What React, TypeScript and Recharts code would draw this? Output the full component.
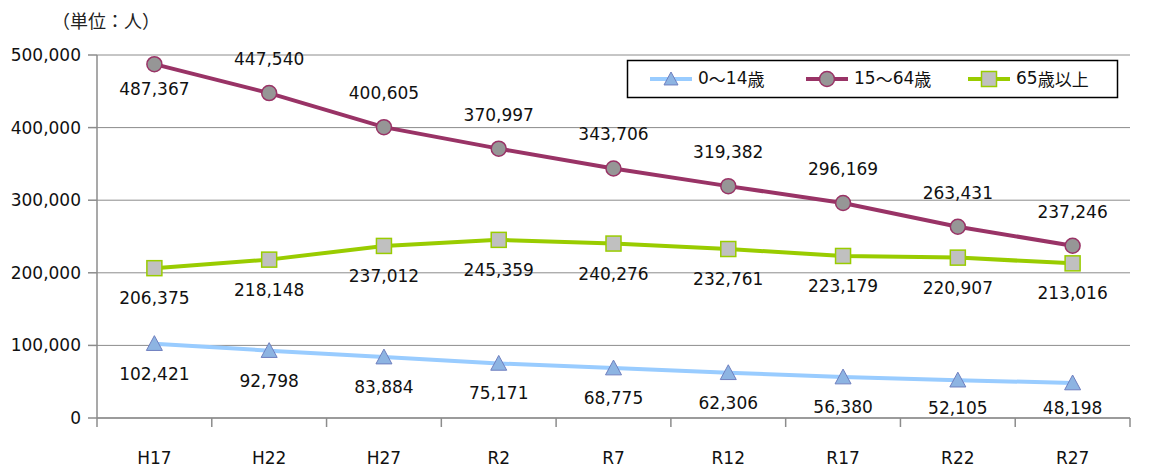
import React from "react";
import { LineChart, Line, XAxis, YAxis, CartesianGrid, LabelList } from "recharts";

const categories = ["H17", "H22", "H27", "R2", "R7", "R12", "R17", "R22", "R27"];
const young = [102421, 92798, 83884, 75171, 68775, 62306, 56380, 52105, 48198];
const working = [487367, 447540, 400605, 370997, 343706, 319382, 296169, 263431, 237246];
const elderly = [206375, 218148, 237012, 245359, 240276, 232761, 223179, 220907, 213016];
const yTicks = [0, 100000, 200000, 300000, 400000, 500000];
const xBounds = [0, 1, 2, 3, 4, 5, 6, 7, 8, 9];

const data = categories.map((c, i) => ({
  x: i + 0.5,
  cat: c,
  young: young[i],
  working: working[i],
  elderly: elderly[i],
}));

const FONT = "'DejaVu Sans', Verdana, sans-serif";
const CJK = "'Noto Sans CJK JP', sans-serif";
const BLUE = "#99ccff";
const MAROON = "#993366";
const GREEN = "#99cc00";
const AXIS = "#8c8c8c";

const W = 1153;
const H = 471;
const M = { top: 55, right: 23, bottom: 0, left: 0 };
const Y_W = 97;
const BAND = (W - M.right - Y_W) / categories.length;

const fmt = (v: number) => v.toLocaleString("en-US");

const Triangle = ({ cx, cy, s = 8 }: any) => (
  <path
    d={`M${cx},${cy - s} L${cx + s},${cy + s * 0.85} L${cx - s},${cy + s * 0.85} Z`}
    fill="#8db4e2"
    stroke="#6f7fbf"
    strokeWidth={1}
  />
);
const Circle = ({ cx, cy }: any) => (
  <circle cx={cx} cy={cy} r={7.5} fill="#969696" stroke={MAROON} strokeWidth={1.5} />
);
const Square = ({ cx, cy }: any) => (
  <rect x={cx - 7.5} y={cy - 7.5} width={15} height={15} fill="#c0c0c0" stroke={GREEN} strokeWidth={1.5} />
);

const makeLabel = (dy: (i: number, y: number) => number) => (props: any) => {
  const { x, y, value, index } = props;
  return (
    <text
      x={x}
      y={y + dy(index, y)}
      textAnchor="middle"
      dominantBaseline="central"
      fontFamily={FONT}
      fontSize={17}
      fill="#111"
    >
      {fmt(value)}
    </text>
  );
};

// x axis: tick marks at band edges, category names at band centres
const XTick = (props: any) => {
  const { x, y, payload } = props;
  const i = payload.value;
  return (
    <g>
      <line x1={x} x2={x} y1={y - 8} y2={y + 1} stroke={AXIS} strokeWidth={1.5} />
      {i < categories.length && (
        <text
          x={x + BAND / 2}
          y={y + 32}
          textAnchor="middle"
          dominantBaseline="central"
          fontFamily={FONT}
          fontSize={17}
          fill="#111"
        >
          {categories[i]}
        </text>
      )}
    </g>
  );
};

const LegendText = ({ x, y, parts }: any) => (
  <text x={x} y={y} dominantBaseline="central" fontSize={17} fill="#111">
    {parts.map((p: string, k: number) => (
      <tspan key={k} fontFamily={/[0-9]/.test(p) ? FONT : CJK}>
        {p}
      </tspan>
    ))}
  </text>
);

const LegendBox = () => {
  const items = [
    { parts: ["0", "～", "14", "歳"], color: BLUE, Mk: Triangle, x: 650 },
    { parts: ["15", "～", "64", "歳"], color: MAROON, Mk: Circle, x: 806 },
    { parts: ["65", "歳以上"], color: GREEN, Mk: Square, x: 968 },
  ];
  return (
    <g>
      <rect x={627.5} y={60.5} width={490} height={37} fill="#fff" stroke="#000" strokeWidth={1.5} />
      {items.map((it, k) => (
        <g key={k}>
          <line x1={it.x} x2={it.x + 42} y1={79} y2={79} stroke={it.color} strokeWidth={4} />
          <it.Mk cx={it.x + 21} cy={79} s={7} />
          <LegendText x={it.x + 48} y={78} parts={it.parts} />
        </g>
      ))}
    </g>
  );
};

export default function App() {
  return (
    <div style={{ position: "absolute", left: 0, top: 0, width: W, height: H, background: "#fff" }}>
      <LineChart width={W} height={H} data={data} margin={M}>
        <text x={52} y={20} dominantBaseline="central" fontFamily={CJK} fontSize={18} fill="#222">
          （単位：人）
        </text>
        <CartesianGrid vertical={false} stroke={AXIS} strokeWidth={1} />
        <XAxis
          dataKey="x"
          type="number"
          domain={[0, 9]}
          ticks={xBounds}
          tick={<XTick />}
          tickLine={false}
          stroke={AXIS}
          strokeWidth={1.5}
          height={53}
          interval={0}
        />
        <YAxis
          domain={[0, 500000]}
          ticks={yTicks}
          tickFormatter={fmt}
          width={Y_W}
          tickSize={9}
          tickMargin={7}
          stroke={AXIS}
          strokeWidth={1.5}
          tick={{ fill: "#111", fontFamily: FONT, fontSize: 17 }}
        />
        <Line
          type="linear"
          dataKey="young"
          stroke={BLUE}
          strokeWidth={4}
          isAnimationActive={false}
          dot={(p: any) => <Triangle key={p.index} cx={p.cx} cy={p.cy} />}
        >
          <LabelList dataKey="young" content={makeLabel((i, y) => Math.min(30, 408 - y))} />
        </Line>
        <Line
          type="linear"
          dataKey="working"
          stroke={MAROON}
          strokeWidth={4}
          isAnimationActive={false}
          dot={(p: any) => <Circle key={p.index} cx={p.cx} cy={p.cy} />}
        >
          <LabelList dataKey="working" content={makeLabel((i) => (i === 0 ? 25 : -34))} />
        </Line>
        <Line
          type="linear"
          dataKey="elderly"
          stroke={GREEN}
          strokeWidth={4}
          isAnimationActive={false}
          dot={(p: any) => <Square key={p.index} cx={p.cx} cy={p.cy} />}
        >
          <LabelList dataKey="elderly" content={makeLabel(() => 30)} />
        </Line>
        <LegendBox />
      </LineChart>
    </div>
  );
}
